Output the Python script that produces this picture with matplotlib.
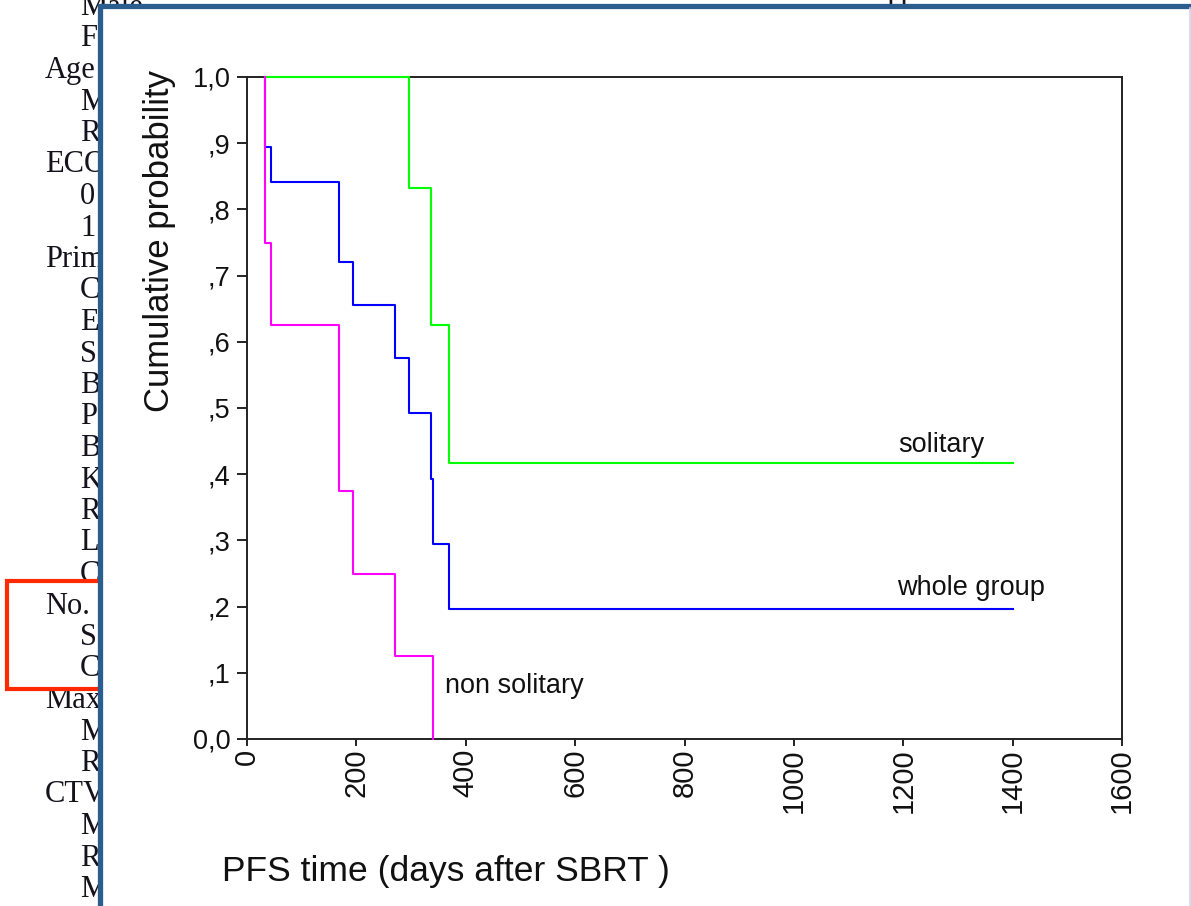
import matplotlib
matplotlib.use("Agg")
import matplotlib.pyplot as plt
from matplotlib.patches import Rectangle

# Kaplan-Meier step data (days after SBRT, cumulative probability)
whole_days = [33, 33, 44, 168, 194, 270, 296, 336, 340, 369, 1400]
whole_prob = [1.0, 0.895, 0.842, 0.72, 0.655, 0.575, 0.492, 0.393, 0.295, 0.197, 0.197]

solitary_days = [33, 296, 336, 369, 1400]
solitary_prob = [1.0, 0.833, 0.625, 0.417, 0.417]

nonsol_days = [33, 33, 44, 168, 194, 270, 340]
nonsol_prob = [1.0, 0.75, 0.625, 0.375, 0.25, 0.125, 0.0]

x_ticks = [0, 200, 400, 600, 800, 1000, 1200, 1400, 1600]
y_ticks = [0.0, 0.1, 0.2, 0.3, 0.4, 0.5, 0.6, 0.7, 0.8, 0.9, 1.0]
y_ticklabels = ["0,0", ",1", ",2", ",3", ",4", ",5", ",6", ",7", ",8", ",9", "1,0"]

# table rows peeking out from behind the figure panel (text, indented)
table_rows = [
    ("Male", True), ("F", True), ("Age", False), ("M", True), ("R", True),
    ("ECOG", False), ("0", True), ("1", True), ("Prim", False), ("C", True),
    ("E", True), ("S", True), ("B", True), ("P", True), ("B", True),
    ("K", True), ("R", True), ("L", True), ("C", True), ("No.", False),
    ("S", True), ("C", True), ("Max", False), ("M", True), ("R", True),
    ("CTV", False), ("M", True), ("R", True), ("M", True),
]

W, H = 1191, 906
fig = plt.figure(figsize=(W / 100, H / 100), dpi=100)

# page layer in pixel coordinates
bg = fig.add_axes([0, 0, 1, 1])
bg.set_xlim(0, W)
bg.set_ylim(H, 0)
bg.axis("off")
bg.set_zorder(0)

clip = Rectangle((0, 0), 97, H, transform=bg.transData, visible=False)
bg.add_patch(clip)
for i, (label, indent) in enumerate(table_rows):
    t = bg.text(80 if indent else 45, 15 + 31.5 * i, label,
                fontsize=22, family="Liberation Serif", color="#15121c",
                ha="left", va="baseline", zorder=3)
    t.set_clip_path(clip)
bg.text(882, 15, "11", fontsize=22, family="Liberation Serif",
        color="#15121c", ha="left", va="baseline", zorder=3)

# red highlight box
bg.add_patch(Rectangle((6.5, 580.5), 200, 108.5, fill=False,
                       edgecolor="#ff2a00", linewidth=3.0, zorder=4))

# figure panel with blue frame
bg.add_patch(Rectangle((99.5, 5.5), 1200, 1000, facecolor="white",
                       edgecolor="#2c5d8f", linewidth=3.8, zorder=5))
bg.plot([1189.5, 1189.5], [8, H], color="#c9d8ec", linewidth=1.2, zorder=6)

# survival plot
ax = fig.add_axes([247 / W, 1 - 739 / H, (1122 - 247) / W, (739 - 77) / H])
ax.set_zorder(2)

ax.step(solitary_days, solitary_prob, where="post", color="#00ff00",
        linewidth=1.5, zorder=3, clip_on=False)
ax.step(whole_days, whole_prob, where="post", color="#0000ff",
        linewidth=1.5, zorder=3, clip_on=False)
ax.step(nonsol_days, nonsol_prob, where="post", color="#ff00ff",
        linewidth=1.5, zorder=3, clip_on=False)

ax.set_xlim(0, 1600)
ax.set_ylim(0, 1.0)
ax.set_xticks(x_ticks)
ax.set_xticklabels([str(v) for v in x_ticks])
ax.set_yticks(y_ticks)
ax.set_yticklabels(y_ticklabels)

for s in ax.spines.values():
    s.set_color("#222222")
    s.set_linewidth(1.4)
ax.tick_params(axis="both", colors="#222222", width=1.4, labelcolor="#111111")
ax.tick_params(axis="y", length=7, pad=5, labelsize=19.5)
ax.tick_params(axis="x", length=5, pad=2, labelsize=21, labelrotation=90)
for lab in ax.get_xticklabels() + ax.get_yticklabels():
    lab.set_family("Liberation Sans")

ax.text(1190, 0.4335, "solitary", fontsize=19.5, family="Liberation Sans",
        color="#111111", va="baseline")
ax.text(1188, 0.2175, "whole group", fontsize=19.5, family="Liberation Sans",
        color="#111111", va="baseline")
ax.text(362, 0.0695, "non solitary", fontsize=19.5, family="Liberation Sans",
        color="#111111", va="baseline")

ax.set_ylabel("Cumulative probability", fontsize=25, family="Liberation Sans",
              color="#111111", loc="top")
ax.yaxis.set_label_coords(-0.081, 1.01)
ax.set_xlabel("PFS time (days after SBRT )", fontsize=25.5,
              family="Liberation Sans", color="#111111", loc="left")
ax.xaxis.set_label_coords(-0.0286, -0.175)

fig.savefig("out.png", dpi=100)
